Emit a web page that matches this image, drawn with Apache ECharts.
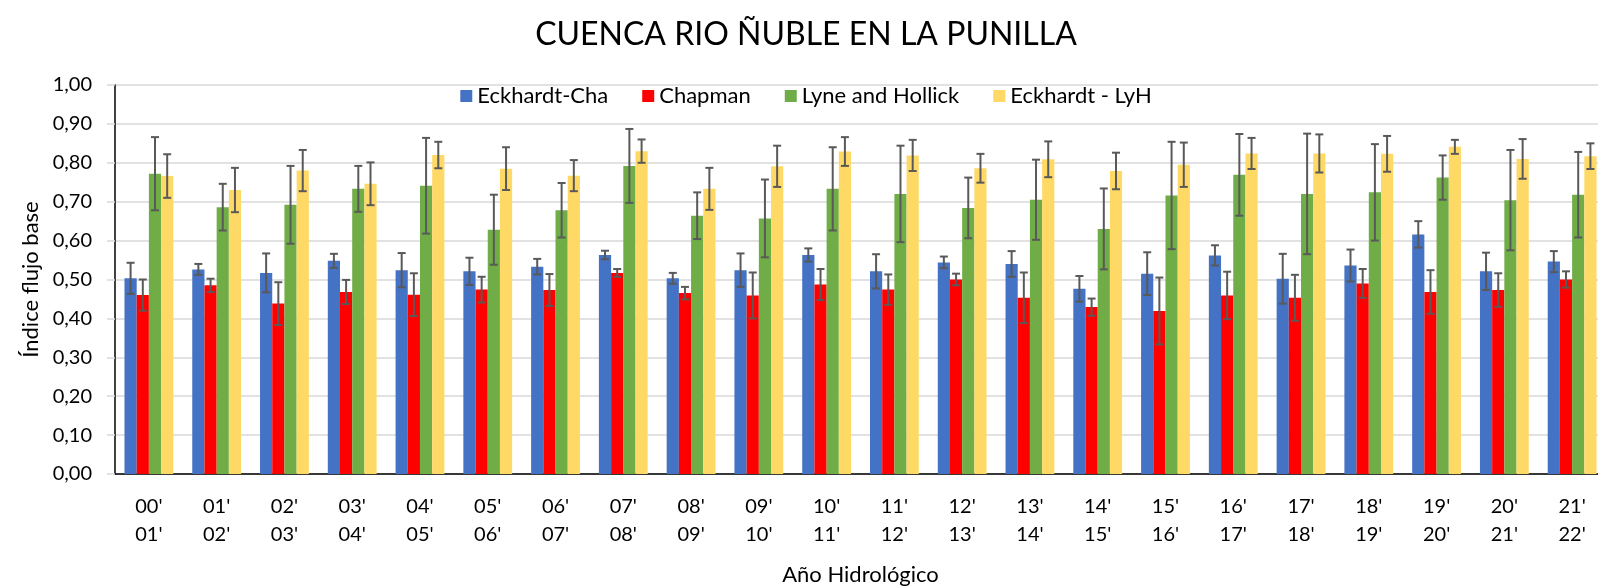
<!DOCTYPE html>
<html>
<head>
<meta charset="utf-8">
<script src="https://cdn.jsdelivr.net/npm/echarts@6/dist/echarts.min.js"></script>
<style>
  html, body { margin: 0; padding: 0; overflow: hidden; background: #fff; }
  #chartContainer { width: 1612px; height: 587px; }
</style>
</head>
<body>
<div id="chartContainer"></div>
<script>
// años hidrológicos
const years = ["00'\n01'", "01'\n02'", "02'\n03'", "03'\n04'", "04'\n05'", "05'\n06'",
  "06'\n07'", "07'\n08'", "08'\n09'", "09'\n10'", "10'\n11'", "11'\n12'", "12'\n13'",
  "13'\n14'", "14'\n15'", "15'\n16'", "16'\n17'", "17'\n18'", "18'\n19'", "19'\n20'",
  "20'\n21'", "21'\n22'"];

const seriesNames = ["Eckhardt-Cha", "Chapman", "Lyne and Hollick", "Eckhardt - LyH"];
const seriesColors = ["#4472C4", "#FF0000", "#70AD47", "#FFD966"];

// indice flujo base (promedio) por metodo
const eckhardtCha = [0.503, 0.526, 0.517, 0.548, 0.524, 0.521, 0.533, 0.563, 0.503, 0.524, 0.563,
  0.521, 0.544, 0.540, 0.476, 0.515, 0.562, 0.502, 0.536, 0.616, 0.521, 0.546];
const chapman = [0.460, 0.485, 0.438, 0.468, 0.461, 0.474, 0.473, 0.517, 0.465, 0.459, 0.487,
  0.474, 0.500, 0.453, 0.429, 0.419, 0.459, 0.453, 0.490, 0.468, 0.473, 0.500];
const lyneHollick = [0.772, 0.686, 0.692, 0.733, 0.741, 0.628, 0.678, 0.792, 0.664, 0.657, 0.733,
  0.720, 0.684, 0.705, 0.630, 0.716, 0.769, 0.720, 0.724, 0.762, 0.704, 0.718];
const eckhardtLyH = [0.766, 0.730, 0.780, 0.746, 0.820, 0.785, 0.767, 0.830, 0.733, 0.791, 0.829,
  0.819, 0.786, 0.809, 0.779, 0.795, 0.824, 0.824, 0.823, 0.841, 0.810, 0.817];

// barras de error (+/-)
const eckhardtChaErr = [0.040, 0.014, 0.050, 0.018, 0.044, 0.035, 0.020, 0.011, 0.014, 0.043, 0.017,
  0.044, 0.015, 0.033, 0.033, 0.055, 0.026, 0.064, 0.041, 0.034, 0.048, 0.027];
const chapmanErr = [0.040, 0.017, 0.055, 0.031, 0.055, 0.033, 0.041, 0.010, 0.016, 0.059, 0.040,
  0.039, 0.015, 0.065, 0.022, 0.086, 0.061, 0.059, 0.037, 0.056, 0.043, 0.021];
const lyneHollickErr = [0.094, 0.060, 0.100, 0.059, 0.123, 0.090, 0.070, 0.095, 0.060, 0.100, 0.107,
  0.124, 0.078, 0.103, 0.104, 0.138, 0.105, 0.155, 0.124, 0.057, 0.129, 0.110];
const eckhardtLyHErr = [0.056, 0.057, 0.053, 0.055, 0.034, 0.055, 0.040, 0.030, 0.054, 0.053, 0.037,
  0.040, 0.037, 0.046, 0.047, 0.057, 0.040, 0.049, 0.046, 0.018, 0.051, 0.033];

const values = [eckhardtCha, chapman, lyneHollick, eckhardtLyH];
const errors = [eckhardtChaErr, chapmanErr, lyneHollickErr, eckhardtLyHErr];

const FONT = "Lato";
const BAR_FRACTION = 0.18; // ancho de barra relativo a la categoria

var chart = echarts.init(document.getElementById("chartContainer"));

// barras
var series = seriesNames.map((name, k) => ({
  name: name,
  type: "bar",
  data: values[k],
  barWidth: BAR_FRACTION * 100 + "%",
  barGap: "0%",
  itemStyle: { color: seriesColors[k] },
  z: 2,
}));

// barras de error como series custom
seriesNames.forEach((name, k) => {
  series.push({
    type: "custom",
    name: name + " err",
    z: 5,
    encode: { x: 0, y: [1, 2] },
    data: values[k].map((v, i) => [i, v - errors[k][i], v + errors[k][i]]),
    renderItem: function (params, api) {
      var lo = api.coord([api.value(0), api.value(1)]);
      var hi = api.coord([api.value(0), api.value(2)]);
      var band = api.size([1, 0])[0];
      var x = lo[0] + (k - 1.5) * band * BAR_FRACTION;
      var cap = 4;
      var style = { stroke: "#595959", lineWidth: 2 };
      return {
        type: "group",
        children: [
          { type: "line", shape: { x1: x, y1: hi[1], x2: x, y2: lo[1] }, style: style },
          { type: "line", shape: { x1: x - cap, y1: hi[1], x2: x + cap, y2: hi[1] }, style: style },
          { type: "line", shape: { x1: x - cap, y1: lo[1], x2: x + cap, y2: lo[1] }, style: style },
        ],
      };
    },
  });
});

var option = {
  animation: false,
  textStyle: { fontFamily: FONT },
  title: {
    text: "CUENCA RIO ÑUBLE EN LA PUNILLA",
    left: "center",
    top: 14,
    textStyle: { fontFamily: FONT, fontSize: 32, fontWeight: "normal", color: "#000" },
  },
  legend: {
    data: seriesNames,
    top: 80,
    left: "center",
    itemWidth: 12,
    itemHeight: 12,
    itemGap: 34,
    icon: "rect",
    textStyle: { fontFamily: FONT, fontSize: 22, color: "#000" },
  },
  grid: { left: 115, right: 6, top: 85, bottom: 113, containLabel: false, outerBoundsMode: "none" },
  xAxis: {
    type: "category",
    data: years,
    name: "Año Hidrológico",
    nameLocation: "middle",
    nameGap: 90,
    nameTextStyle: { fontFamily: FONT, fontSize: 22, color: "#000" },
    axisLine: { lineStyle: { color: "#000", width: 1.5 } },
    axisTick: { alignWithLabel: true, length: 6, lineStyle: { color: "#000", width: 1.5 } },
    axisLabel: { fontFamily: FONT, fontSize: 20, lineHeight: 28, color: "#000", margin: 19, interval: 0 },
  },
  yAxis: {
    type: "value",
    min: 0,
    max: 1,
    interval: 0.1,
    name: "Índice flujo base",
    nameLocation: "middle",
    nameGap: 66,
    nameTextStyle: { fontFamily: FONT, fontSize: 22, color: "#000" },
    axisLine: { show: true, lineStyle: { color: "#000", width: 1.5 } },
    axisTick: { show: true, length: 8, lineStyle: { color: "#D9D9D9", width: 1.5 } },
    splitLine: { lineStyle: { color: "#D9D9D9", width: 1.5 } },
    axisLabel: {
      fontFamily: FONT,
      fontSize: 20,
      color: "#000",
      margin: 23,
      formatter: (v) => v.toFixed(2).replace(".", ","),
    },
  },
  series: series,
};

chart.setOption(option);
</script>
</body>
</html>
